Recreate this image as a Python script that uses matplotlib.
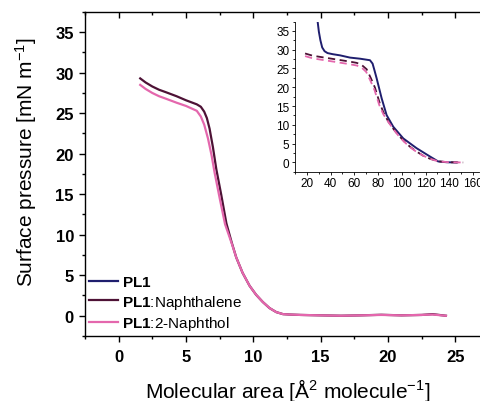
import matplotlib
matplotlib.use("Agg")
import matplotlib.pyplot as plt
from matplotlib.lines import Line2D
from matplotlib.ticker import MultipleLocator

plt.rcParams["font.family"] = ["Liberation Sans", "DejaVu Sans"]
plt.rcParams["mathtext.fontset"] = "custom"
plt.rcParams["mathtext.rm"] = "Liberation Sans"
plt.rcParams["mathtext.bf"] = "Liberation Sans:bold"
plt.rcParams["mathtext.it"] = "Liberation Sans:italic"

# isotermas principales (área reducida)
naftaleno_x = [1.6, 2.0, 2.5, 3.0, 3.5, 4.3, 5.0, 5.8, 6.1, 6.35, 6.55, 6.75, 7.0,
               7.25, 7.62, 8.0, 8.4, 8.73, 9.2, 9.72, 10.2, 10.7, 11.2, 11.7, 12.2,
               12.7, 13.5, 15.0, 16.5, 18.0, 19.5, 21.0, 22.5, 23.3, 24.3]
naftaleno_y = [29.3, 28.8, 28.3, 27.9, 27.6, 27.1, 26.6, 26.1, 25.8, 25.2, 24.4, 23.1, 20.8,
               18.1, 14.9, 11.4, 9.0, 7.2, 5.3, 3.7, 2.6, 1.7, 0.95, 0.45, 0.2,
               0.15, 0.1, 0.05, 0.0, 0.05, 0.12, 0.05, 0.1, 0.2, 0.0]

naftol_x = [1.6, 2.0, 2.5, 3.0, 3.5, 4.3, 5.0, 5.8, 6.1, 6.35, 6.63, 6.9, 7.12,
            7.49, 7.9, 8.4, 8.73, 9.2, 9.72, 10.2, 10.7, 11.2, 11.7, 12.2,
            12.7, 13.5, 15.0, 16.5, 18.0, 19.5, 21.0, 22.5, 23.3, 24.3]
naftol_y = [28.5, 28.0, 27.5, 27.1, 26.8, 26.3, 25.9, 25.3, 24.6, 23.6, 21.9, 19.8, 17.7,
            14.6, 11.3, 8.9, 7.2, 5.3, 3.7, 2.6, 1.7, 0.95, 0.45, 0.2,
            0.15, 0.1, 0.05, 0.0, 0.05, 0.1, 0.05, 0.1, 0.15, 0.0]

# recuadro: isotermas en Å² por molécula
pl1_in_x = [29.2, 30.2, 31.5, 33.0, 35.0, 37.5, 42.0, 48.0, 56.4, 65.0, 73.2, 75.4, 77.0,
            78.8, 83.0, 87.2, 92.8, 101.2, 112.4, 123.6, 130.6, 138.0, 146.0]
pl1_in_y = [37.4, 34.8, 32.5, 30.6, 29.6, 29.1, 28.8, 28.5, 27.9, 27.6, 27.2, 26.3, 24.5,
            22.4, 17.1, 12.6, 9.5, 6.4, 3.8, 1.6, 0.27, 0.05, 0.0]

naftaleno_in_x = [18.6, 25, 35, 45, 55, 62, 66, 70.4, 74, 77.4, 81.6, 85, 88.6, 93, 97,
                  102, 106.8, 112.4, 118, 123.6, 130.6, 140, 151.6]
naftaleno_in_y = [29.0, 28.4, 27.9, 27.4, 26.9, 26.5, 26.0, 24.8, 22.4, 19.9, 15.6, 13.0,
                  10.9, 8.9, 7.3, 5.6, 4.2, 2.9, 1.8, 1.0, 0.3, 0.05, 0.0]
naftol_in_x = [18.6, 25, 35, 45, 55, 62, 66, 70.0, 73.5, 77.0, 81.0, 84.5, 88.6, 93, 97,
               102, 106.8, 112.4, 118, 123.6, 130.6, 140, 151.6]
naftol_in_y = [28.3, 27.7, 27.2, 26.7, 26.2, 25.8, 25.3, 24.1, 21.8, 19.3, 15.3, 12.8,
               10.8, 8.8, 7.2, 5.5, 4.1, 2.8, 1.8, 1.0, 0.3, 0.05, 0.0]

C_PL1 = "#1f1e6e"
C_NAFTALENO = "#4e1236"
C_NAFTOL = "#e467ad"

fig = plt.figure(figsize=(4.81, 4.02), dpi=100)
ax = fig.add_axes([0.1767, 0.1617, 0.840, 0.806])

ax.plot(naftaleno_x, naftaleno_y, color=C_NAFTALENO, lw=1.6)
ax.plot(naftol_x, naftol_y, color=C_NAFTOL, lw=1.6)

ax.set_xlim(-2.5, 27.5)
ax.set_ylim(-2.5, 37.5)
ax.xaxis.set_major_locator(MultipleLocator(5))
ax.xaxis.set_minor_locator(MultipleLocator(2.5))
ax.yaxis.set_major_locator(MultipleLocator(5))
ax.yaxis.set_minor_locator(MultipleLocator(2.5))
ax.tick_params(which="both", direction="out", top=True, width=1.0)
ax.tick_params(which="major", length=4.5)
ax.tick_params(which="minor", length=2.5)
ax.tick_params(axis="x", which="both", pad=5)
ax.tick_params(axis="y", which="both", pad=3.5)
# marcas del eje superior hacia dentro
for t in ax.xaxis.get_major_ticks() + ax.xaxis.get_minor_ticks():
    t.tick2line.set_marker(3)
for lab in ax.get_xticklabels() + ax.get_yticklabels():
    lab.set_fontweight("bold")
    lab.set_fontsize(12)
ax.spines["right"].set_visible(False)
for s in ("left", "bottom", "top"):
    ax.spines[s].set_linewidth(1.0)

ax.set_xlabel(r"Molecular area [Å$^2$ molecule$^{-1}$]", fontsize=15)
ax.set_ylabel(r"Surface pressure [mN m$^{-1}$]", fontsize=15)
ax.xaxis.set_label_coords(0.502, -0.122)
ax.yaxis.set_label_coords(-0.114, 0.539)

handles = [
    Line2D([], [], color=C_PL1, lw=1.6, label=r"$\mathbf{PL1}$"),
    Line2D([], [], color=C_NAFTALENO, lw=1.6, label=r"$\mathbf{PL1}$:Naphthalene"),
    Line2D([], [], color=C_NAFTOL, lw=1.6, label=r"$\mathbf{PL1}$:2-Naphthol"),
]
ax.legend(handles=handles, loc="lower left", bbox_to_anchor=(0.01, 0.012),
          frameon=False, fontsize=11, handlelength=1.9, handletextpad=0.26,
          labelspacing=0.22, borderpad=0, borderaxespad=0)

# recuadro
ins = fig.add_axes([0.613, 0.570, 0.383, 0.374])
ins.plot(pl1_in_x, pl1_in_y, color=C_PL1, lw=1.4)
ins.plot(naftaleno_in_x, naftaleno_in_y, color=C_NAFTALENO, lw=1.3, ls=(0, (4, 2.5)))
ins.plot(naftol_in_x, naftol_in_y, color=C_NAFTOL, lw=1.3, ls=(0, (4, 2.5)))
ins.set_xlim(10, 165)
ins.set_ylim(-2.5, 37.5)
ins.xaxis.set_major_locator(MultipleLocator(20))
ins.xaxis.set_minor_locator(MultipleLocator(10))
ins.yaxis.set_major_locator(MultipleLocator(5))
ins.yaxis.set_minor_locator(MultipleLocator(2.5))
ins.tick_params(which="both", direction="out", labelsize=8.5, width=0.6, pad=1.5)
ins.tick_params(which="major", length=2.5)
ins.tick_params(which="minor", length=1.5)
ins.spines["top"].set_visible(False)
ins.spines["right"].set_visible(False)
for s in ("left", "bottom"):
    ins.spines[s].set_linewidth(0.6)
ins.patch.set_alpha(0)

fig.savefig("out.png", dpi=100)
